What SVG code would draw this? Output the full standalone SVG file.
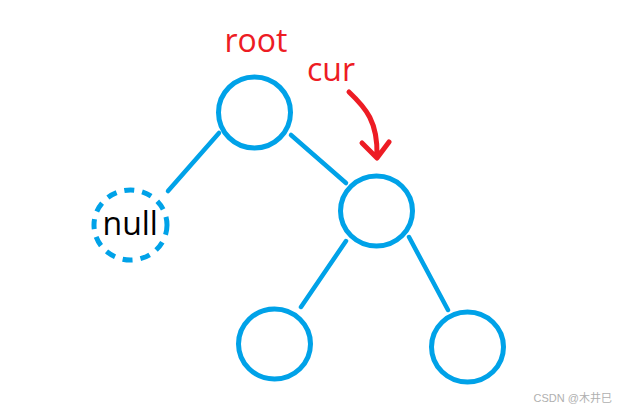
<svg xmlns="http://www.w3.org/2000/svg" width="628" height="413" viewBox="0 0 628 413">
<style>
.node{fill:none;stroke:#00A2E8;stroke-width:5}
.edge{stroke:#00A2E8;stroke-width:4.5;stroke-linecap:round;fill:none}
.lbl{font-family:"Open Sans","Liberation Sans",sans-serif;font-size:32px;fill:#ED1C24}
</style>
<rect width="628" height="413" fill="#fff"/>
<g id="connectors">
<line class="edge" x1="219" y1="133" x2="168" y2="191"/>
<line class="edge" x1="291" y1="135" x2="346" y2="183"/>
<line class="edge" x1="346" y1="241" x2="301" y2="307"/>
<line class="edge" x1="409" y1="237" x2="448" y2="310"/>
<path d="M349,92 C366,108 378,122 377,156 M362,143 L377,158 L389,142" fill="none" stroke="#ED1C24" stroke-width="5" stroke-linecap="round" stroke-linejoin="round"/>
</g>
<g id="root"><ellipse class="node" cx="254.5" cy="112.5" rx="36" ry="35.5"/></g>
<g id="cur"><ellipse class="node" cx="376.5" cy="211" rx="36" ry="35"/></g>
<g id="null"><ellipse class="node" cx="130.5" cy="225" rx="36.5" ry="35" stroke-dasharray="10 8"/>
<text x="102.5" y="235" font-family="Open Sans,Liberation Sans,sans-serif" font-size="32" fill="#000">null</text></g>
<g id="left"><ellipse class="node" cx="274.5" cy="344" rx="36" ry="35"/></g>
<g id="right"><ellipse class="node" cx="467.5" cy="347" rx="36" ry="35"/></g>
<text class="lbl" x="224.5" y="52">root</text>
<text class="lbl" x="307" y="81">cur</text>
<text x="612" y="402" text-anchor="end" font-family="Liberation Sans,Noto Sans CJK SC,sans-serif" font-size="11" fill="#b0b0b0">CSDN @木井巳</text>
</svg>
